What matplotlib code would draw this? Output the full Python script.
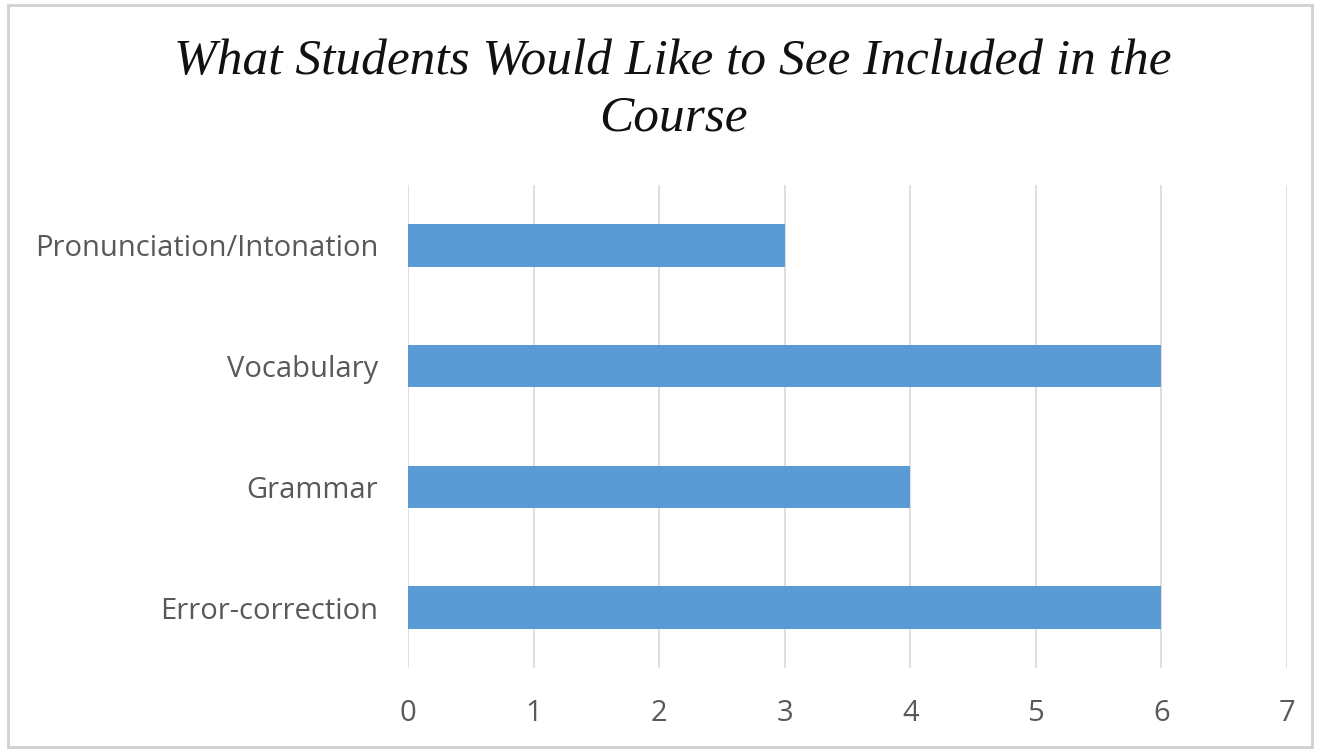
import matplotlib
matplotlib.use("Agg")
import matplotlib.pyplot as plt
from matplotlib.patches import Rectangle

categories = ["Error-correction", "Grammar", "Vocabulary", "Pronunciation/Intonation"]
values = [6, 4, 6, 3]
xticks = [0, 1, 2, 3, 4, 5, 6, 7]
title = "What Students Would Like to See Included in the\nCourse"

fig = plt.figure(figsize=(13.18, 7.5), dpi=100)
ax = fig.add_axes([408/1318, 1-668/750, (1287-408)/1318, (668-185)/750])

ax.barh(range(len(categories)), values, height=0.35, color="#5B9BD5", zorder=3)
ax.set_xlim(0, 7)
ax.set_ylim(-0.5, 3.5)
ax.set_xticks(xticks)
ax.set_yticks(range(len(categories)))
ax.set_yticklabels(categories)
ax.grid(axis="x", color="#D9D9D9", linewidth=1.2, zorder=0)
for s in ax.spines.values():
    s.set_visible(False)
ax.tick_params(axis="both", length=0, labelcolor="#595959", labelsize=21)
ax.tick_params(axis="y", pad=21.5)
ax.tick_params(axis="x", pad=22)
for lab in ax.get_xticklabels() + ax.get_yticklabels():
    lab.set_family("Open Sans")

fig.text(673/1318, 1-90/750, title, ha="center", va="center", fontsize=37,
         family="Liberation Serif", style="italic", color="#111111", linespacing=1.29)

fig.patches.append(Rectangle((8/1318, 3/750), (1312-8)/1318, (745-3)/750,
                             transform=fig.transFigure, fill=False,
                             edgecolor="#D0D0D0", linewidth=2))

fig.savefig("out.png", dpi=100)
